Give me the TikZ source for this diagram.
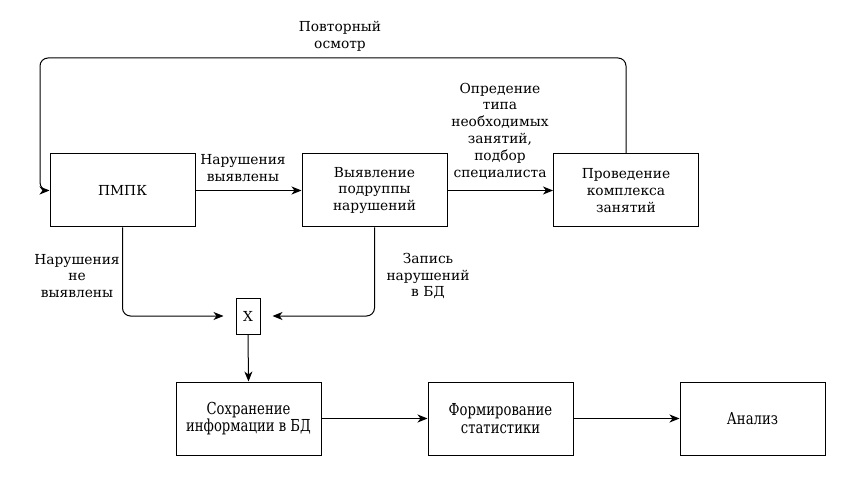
\documentclass[tikz,border=0pt]{standalone}
\usepackage{fontspec}
\setmainfont{DejaVu Serif}
\newfontfamily\condfont[FakeStretch=0.8]{DejaVu Serif}
\usetikzlibrary{arrows.meta}
\begin{document}
\begin{tikzpicture}[x=1pt,y=-1pt,
  font=\fontsize{13.8}{16.8}\selectfont,
  box/.style={draw,line width=1pt,minimum width=145pt,minimum height=73pt,align=center,inner sep=0pt},
  cbox/.style={box,font=\condfont\fontsize{16.5}{17.5}\selectfont},
  lbl/.style={align=center,inner sep=0pt},
  conn/.style={line width=1pt,-{Stealth[length=10pt,width=8pt,inset=3pt]},rounded corners=8pt}]
\useasboundingbox (0,0) rectangle (864,494);
\node[box] (pmpk) at (122.5,190.5) {ПМПК};
\node[box] (vyav) at (374.5,190.5) {Выявление\\подруппы\\нарушений};
\node[box] (prov) at (626,190.5) {Проведение\\комплекса\\занятий};
\node[draw,line width=1pt,minimum width=24pt,minimum height=36pt,inner sep=0pt] (x) at (248,316) {X};
\node[cbox] (sohr) at (248.5,418.5) {Сохранение\\информации в БД};
\node[cbox] (form) at (500.5,418.5) {Формирование\\статистики};
\node[cbox] (anal) at (752.5,418.5) {Анализ};
\coordinate (c1) at (626,58);
\coordinate (c2) at (40,58);
\coordinate (c3) at (40,190.5);
\draw[conn] (prov.north) -- (c1) -- (c2) -- (c3) -- (pmpk.west);
\draw[conn] (pmpk) -- (vyav);
\draw[conn] (vyav) -- (prov);
\draw[conn] (pmpk.south) |- ([xshift=-12pt]x.west);
\draw[conn] (vyav.south) |- ([xshift=12pt]x.east);
\draw[conn] (x.south) -- (sohr.north);
\draw[conn] (sohr) -- (form);
\draw[conn] (form) -- (anal);
\node[lbl] (l1) at (340,36) {Повторный\\осмотр};
\node[lbl] (l2) at (243,168) {Нарушения\\выявлены};
\node[lbl] (l3) at (500,131) {Опредение\\типа\\необходимых\\занятий,\\подбор\\специалиста};
\node[lbl] (l4) at (77,276) {Нарушения\\не\\выявлены};
\node[lbl] (l5) at (428,276) {Запись\\нарушений\\в БД};
\end{tikzpicture}
\end{document}
